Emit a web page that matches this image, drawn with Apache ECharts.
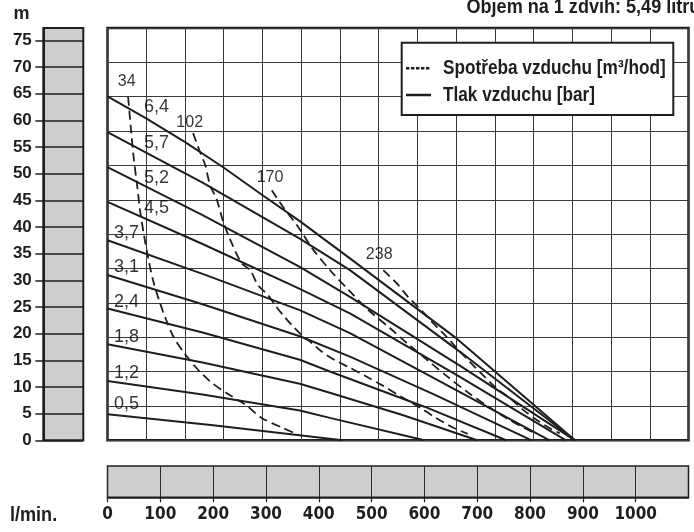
<!DOCTYPE html>
<html>
<head>
<meta charset="utf-8">
<script src="https://cdn.jsdelivr.net/npm/echarts@6/dist/echarts.min.js"></script>
<style>
html,body{margin:0;padding:0;background:#fff;}
#c{width:694px;height:532px;}
</style>
</head>
<body>
<div id="c"></div>
<script>
// ---------- data ----------
const X_MAX = 1100;          // l/min
const Y_MAX = 77.3;          // m
const flowTicks = [0, 100, 200, 300, 400, 500, 600, 700, 800, 900, 1000];
const headTicks = [0, 5, 10, 15, 20, 25, 30, 35, 40, 45, 50, 55, 60, 65, 70, 75];

// air pressure curves (bar): [flow l/min, head m]
const p64 = [[0,64.5],[74,60.3],[147,55.9],[219,51.2],[293,46.0],[364,41.1],[459,34.1],[657,19.4],[885,0]];
const p57 = [[0,57.8],[180,48.3],[364,37.8],[459,31.9],[670,16.4],[885,0]];
const p52 = [[0,51.2],[180,42.2],[364,32.5],[459,26.9],[670,13.8],[885,0]];
const p45 = [[0,44.7],[180,36.8],[364,28.4],[459,23.8],[660,12.3],[868,0]];
const p37 = [[0,37.5],[180,31.2],[364,24.4],[459,20.1],[640,10.5],[837,0]];
const p31 = [[0,31.0],[180,25.5],[364,19.5],[459,15.7],[620,8.5],[803,0]];
const p24 = [[0,24.7],[180,20.2],[364,15.1],[421,12.9],[600,6.3],[755,0]];
const p18 = [[0,18.0],[180,14.6],[364,10.6],[421,8.9],[560,4.7],[700,0]];
const p12 = [[0,11.1],[180,8.6],[364,5.6],[421,4.2],[600,0]];
const p05 = [[0,4.9],[200,2.8],[445,0]];
const pressureNames = ['6,4','5,7','5,2','4,5','3,7','3,1','2,4','1,8','1,2','0,5'];

// air consumption curves (m3/hod)
const air34  = [[39,64.4],[44.5,58.2],[50,52.6],[56,47.9],[61.5,43.2],[69,38.5],[77,34.2],[86,30.1],[97.5,26.3],[111,22.6],[126,19.2],[145,16.4],[168,13.6],[196,10.9],[228,8.7],[262,6.6],[292,4.2],[330,2.4],[362,1.0]];
const air102 = [[162,57.6],[175,54.1],[185,51.6],[194,47.9],[207,45.1],[219,41.0],[235,37.0],[254,33.2],[270,31.9],[285,29.1],[304,27.2],[317,25.4],[332,23.5],[349,21.6],[368,19.7],[387,18.2],[406,16.6],[431,15.0],[459,13.6],[491,11.9],[522,10.2],[557,8.1],[592,6.1],[622,4.2],[652,2.5],[682,1.2]];
const air170 = [[311,46.9],[332,43.8],[361,40.0],[389,35.8],[424,31.6],[459,27.9],[493,24.5],[535,21.0],[566,18.3],[606,15.0],[644,11.9],[682,9.0],[723,6.2],[758,4.0],[805,1.5]];
const air238 = [[522,31.9],[547,29.5],[569,26.9],[597,24.1],[616,22.0],[639,19.7],[664,17.0],[686,14.7],[711,12.2],[736,9.8],[762,7.9],[787,5.7],[810,4.0],[835,2.4],[856,1.3]];
const airNames = ['34','102','170','238'];

// ---------- styling ----------
const INK = '#1e1e1e';
const COND = '"DejaVu Sans Condensed","DejaVu Sans",sans-serif';
const SANS = '"Liberation Sans",Arial,sans-serif';

const pressureCurves = [p64,p57,p52,p45,p37,p31,p24,p18,p12,p05];
const airCurves = [air34,air102,air170,air238];

// label anchors in data units (flow, head)
const pressureLabelAnchors = [[93,62.5],[93,55.7],[93,49.2],[93,43.5],[36,38.8],[36,32.4],[36,25.9],[36,19.3],[36,12.6],[36,6.8]];
const airLabelAnchors = [[36.4,67.2],[155.6,59.6],[307.7,49.2],[514.4,34.9]];

const series = [];
pressureCurves.forEach((c) => series.push({
  type:'line', name:'Tlak vzduchu [bar]', data:c, xAxisIndex:0, yAxisIndex:0,
  showSymbol:false, symbol:'none', silent:true, z:3,
  lineStyle:{color:INK, width:2}
}));
airCurves.forEach((c) => series.push({
  type:'line', name:'Spotřeba vzduchu [m³/hod]', data:c, xAxisIndex:0, yAxisIndex:0,
  showSymbol:false, symbol:'none', silent:true, z:3, smooth:0.3,
  lineStyle:{color:INK, width:1.8, type:[9,5]}
}));
series.push({
  type:'scatter', xAxisIndex:0, yAxisIndex:0, silent:true, symbolSize:0.1, z:4,
  itemStyle:{color:'transparent'},
  data: pressureNames.map((n,i)=>({name:n, value:pressureLabelAnchors[i]})),
  label:{show:true, position:'inside', formatter:'{b}', color:'#000', fontFamily:SANS, fontSize:18}
});
series.push({
  type:'scatter', xAxisIndex:0, yAxisIndex:0, silent:true, symbolSize:0.1, z:4,
  itemStyle:{color:'transparent'},
  data: airNames.map((n,i)=>({name:n, value:airLabelAnchors[i]})),
  label:{show:true, position:'inside', formatter:'{b}', color:'#000', fontFamily:SANS, fontSize:16}
});

function condText(txt, x, y, z, size){
  return {type:'text', x:x, y:y, scaleX:0.86, z:z,
    style:{text:txt, x:0, y:0, verticalAlign:'middle', align:'left',
      fontFamily:SANS, fontWeight:'bold', fontSize:size || 20, fill:INK}};
}

const option = {
  animation:false,
  backgroundColor:'#ffffff',
  grid:[
    {left:107.5, top:28, width:581, height:412.3, show:true, borderColor:INK, borderWidth:2.5, backgroundColor:'transparent'},
    {left:43.3, top:28, width:40, height:412.3, show:true, borderColor:INK, borderWidth:2, backgroundColor:'#cecece'},
    {left:107.5, top:466, width:581, height:31.3, show:true, borderColor:INK, borderWidth:1.5, backgroundColor:'#cecece'}
  ],
  xAxis:[
    {gridIndex:0, type:'value', min:0, max:X_MAX, interval:X_MAX/15,
     axisLine:{show:false}, axisTick:{show:false}, axisLabel:{show:false},
     splitLine:{show:true, lineStyle:{color:'#3a3a3a', width:1}}},
    {gridIndex:1, type:'value', min:0, max:1, show:false},
    {gridIndex:2, type:'value', min:0, max:X_MAX, interval:100, position:'bottom',
     axisLine:{show:true, lineStyle:{color:INK, width:1.5}},
     axisTick:{show:true, length:5, lineStyle:{color:INK, width:1.2}, customValues:flowTicks},
     axisLabel:{show:true, margin:9, customValues:flowTicks, formatter:(v)=>String(v),
       color:INK, fontFamily:COND, fontWeight:'bold', fontSize:17},
     splitLine:{show:true, lineStyle:{color:'#2a2a2a', width:1}}}
  ],
  yAxis:[
    {gridIndex:0, type:'value', min:0, max:Y_MAX, interval:Y_MAX/12,
     axisLine:{show:false}, axisTick:{show:false}, axisLabel:{show:false},
     splitLine:{show:true, lineStyle:{color:'#3a3a3a', width:1}}},
    {gridIndex:1, type:'value', min:0, max:Y_MAX, interval:5, position:'left',
     axisLine:{show:true, lineStyle:{color:INK, width:2}},
     axisTick:{show:true, length:8, lineStyle:{color:INK, width:1.5}, customValues:headTicks},
     axisLabel:{show:true, margin:11.5, customValues:headTicks, color:INK, fontFamily:SANS, fontWeight:'bold', fontSize:17},
     splitLine:{show:true, lineStyle:{color:INK, width:1.5}}},
    {gridIndex:2, type:'value', min:0, max:1, show:false}
  ],
  series: series,
  graphic:[
    condText('Objem na 1 zdvih: 5,49 litru', 466.5, 7.5, 10, 21),
    {type:'text', z:10, style:{text:'m', x:21.5, y:14, verticalAlign:'middle', align:'center',
      fontFamily:SANS, fontWeight:'bold', fontSize:18, fill:INK}},
    condText('l/min.', 10, 515.5, 10, 21),
    {type:'rect', z:10, shape:{x:401.7, y:42.7, width:271.6, height:72.3},
      style:{fill:'#ffffff', stroke:INK, lineWidth:2}},
    {type:'line', z:11, shape:{x1:406, y1:68.3, x2:430, y2:68.3},
      style:{stroke:INK, lineWidth:2.4, lineDash:[3.4,1.6]}},
    {type:'line', z:11, shape:{x1:406, y1:95, x2:431, y2:95},
      style:{stroke:INK, lineWidth:2.5}},
    condText('Spotřeba vzduchu [m³/hod]', 443, 68.5, 11),
    condText('Tlak vzduchu [bar]', 443, 95.5, 11)
  ]
};

const chart = echarts.init(document.getElementById('c'));
chart.setOption(option);
</script>
</body>
</html>
